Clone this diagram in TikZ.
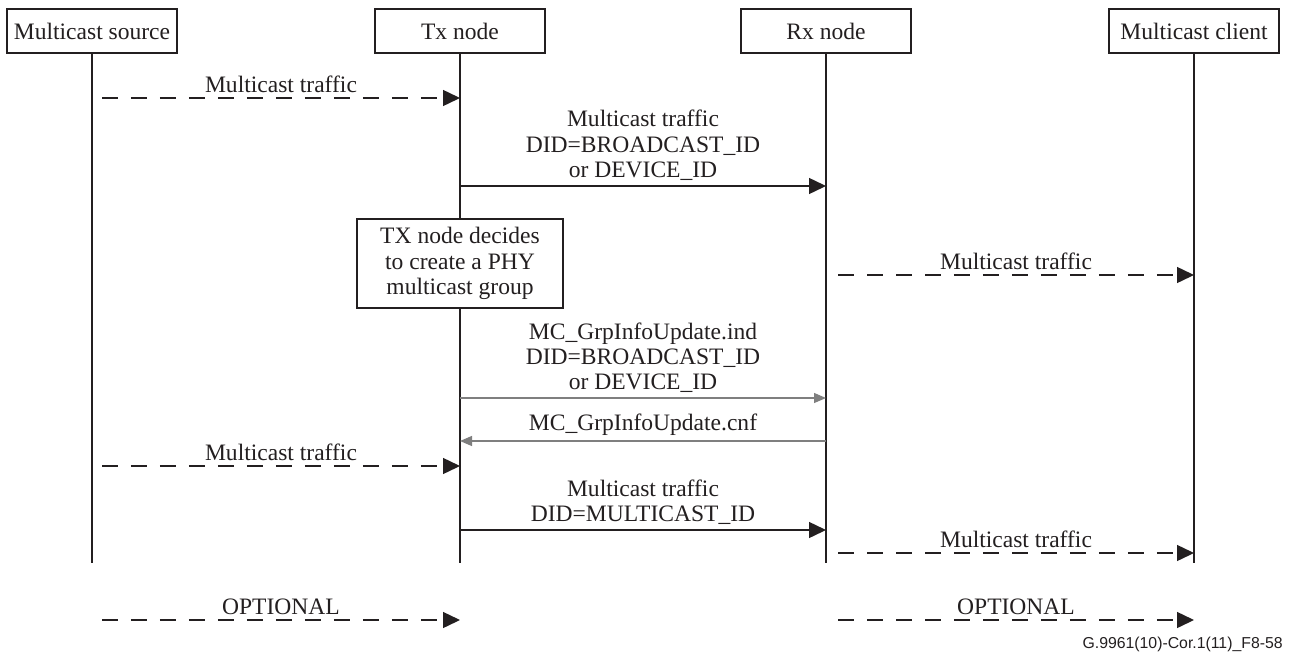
\documentclass[tikz,border=0pt]{standalone}
\usepackage{fontspec}
\setmainfont{Liberation Serif}
\newfontfamily\sanspie{Liberation Sans}
\usetikzlibrary{positioning,calc,arrows.meta}
\definecolor{tinta}{HTML}{231F20}
\definecolor{gris}{HTML}{7F7F7F}

\begin{document}
\begin{tikzpicture}[x=0.02cm, y=-0.02cm, font=\fontsize{13.4}{14.5}\selectfont, every node/.style={text=tinta},
  actor/.style={draw=tinta, line width=0.8pt, fill=white, minimum width=3.4cm, minimum height=0.88cm, inner sep=0pt},
  caja/.style={actor, minimum width=4.12cm, minimum height=1.78cm, align=center},
  vida/.style={tinta, line width=0.8pt},
  msg/.style={tinta, line width=0.8pt, -{Triangle[length=0.34cm, width=0.32cm]}},
  opt/.style={msg, dash pattern=on 0.32cm off 0.26cm},
  resp/.style={gris, line width=0.7pt, -{Triangle[length=0.24cm, width=0.2cm]}},
  lbl/.style={above, align=center, inner sep=2.5pt}]

\useasboundingbox (0,0) rectangle (1293,652);

% ================= actores =================
\node[actor] (src) at (92,31) {Multicast source};
\node[actor] (tx) at (460,31) {Tx node};
\node[actor] (rx) at (826,31) {Rx node};
\node[actor] (cli) at (1194,31) {Multicast client};

% lineas de vida
\coordinate (fin) at (0,563);
\foreach \n in {src,tx,rx,cli}
  \draw[vida] (\n.south) -- (\n |- fin);

% ================= mensajes =================
\draw[opt] ($(src |- 0,98)+(10,0)$) -- node[lbl]{Multicast traffic} (tx |- 0,98);
\draw[msg] (tx |- 0,186) -- node[lbl]{Multicast traffic\\DID=BROADCAST\_ID\\or DEVICE\_ID} (rx |- 0,186);

% decision del Tx
\node[caja] (decide) at (460,263.5) {TX node decides\\to create a PHY\\multicast group};
\draw[opt] ($(rx |- 0,275)+(12,0)$) -- node[lbl]{Multicast traffic} (cli |- 0,275);

% grupo multicast PHY
\draw[resp] (tx |- 0,398) -- node[lbl]{MC\_GrpInfoUpdate.ind\\DID=BROADCAST\_ID\\or DEVICE\_ID} (rx |- 0,398);
\draw[resp] (rx |- 0,441) -- node[lbl]{MC\_GrpInfoUpdate.cnf} (tx |- 0,441);
\draw[opt] ($(src |- 0,466)+(10,0)$) -- node[lbl]{Multicast traffic} (tx |- 0,466);
\draw[msg] (tx |- 0,530) -- node[lbl]{Multicast traffic\\DID=MULTICAST\_ID} (rx |- 0,530);
\draw[opt] ($(rx |- 0,553)+(12,0)$) -- node[lbl]{Multicast traffic} (cli |- 0,553);

% ================= leyenda =================
\coordinate (leg) at (0,620);
\draw[opt] ($(src |- leg)+(10,0)$) -- node[lbl]{OPTIONAL} (tx |- leg);
\draw[opt] ($(rx |- leg)+(12,0)$) -- node[lbl]{OPTIONAL} (cli |- leg);

\node[font=\sanspie\fontsize{9}{10}\selectfont, anchor=base east, inner sep=0pt] (pie) at (1283,648) {G.9961(10)-Cor.1(11)\_F8-58};

\end{tikzpicture}
\end{document}
